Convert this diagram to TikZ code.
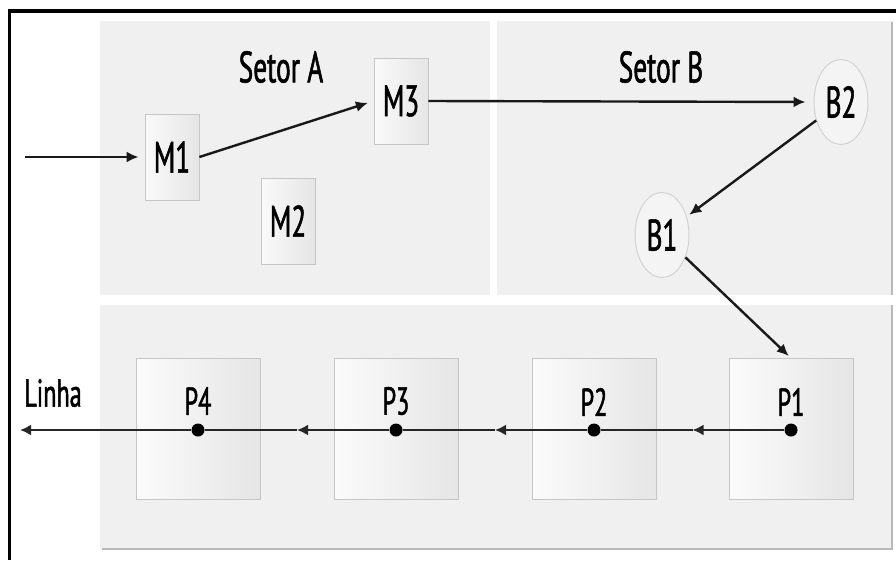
\documentclass[tikz,border=0pt]{standalone}
\usepackage{fontspec}
\setmainfont{PT Sans}[FakeStretch=0.62,FakeBold=1.2]
\usetikzlibrary{shapes.geometric,arrows.meta,calc}
\begin{document}
\begin{tikzpicture}[x=1pt,y=-1pt,
  panel/.style={fill=gray!12,draw=none},
  edge/.style={draw=gray!55,line width=1.2pt},
  mbox/.style={rectangle,draw=gray!45,line width=0.8pt,left color=gray!4,right color=gray!20,
    minimum width=54pt,minimum height=86pt,inner sep=0pt,font=\fontsize{44}{44}\selectfont},
  bnode/.style={ellipse,draw=gray!35,line width=1pt,fill=gray!9,
    minimum width=54pt,minimum height=85pt,inner sep=0pt,font=\fontsize{44}{44}\selectfont},
  pbox/.style={rectangle,draw=gray!45,line width=0.8pt,left color=gray!3,right color=gray!20,
    minimum width=124pt,minimum height=141pt,inner sep=0pt},
  plabel/.style={font=\fontsize{39}{39}\selectfont,inner sep=0pt},
  title/.style={font=\fontsize{44}{44}\selectfont,inner sep=0pt},
  dotc/.style={circle,fill=black,minimum size=13pt,inner sep=0pt},
  arr/.style={-{Latex[length=12pt,width=11pt]},line width=2.4pt,draw=black!90,shorten >=6pt},
  barr/.style={-{Latex[length=11pt,width=11pt]},line width=2.4pt,draw=black!85},
  bline/.style={line width=2.4pt,draw=black!85}]
\useasboundingbox (0,0) rectangle (896,560);
% panels
\fill[panel] (100,21) rectangle (490,295);
\fill[panel] (497,21) rectangle (893,295);
\fill[panel] (100,305) rectangle (893,549);
\draw[edge] (892,22) -- (892,295);
\draw[edge] (892,305) -- (892,549) -- (102,549);
% frame
\draw[line width=3.6pt] (9.5,560) -- (9.5,11) -- (896,11);
% titles
\node[title] (sa) at (281,67) {Setor A};
\node[title] (sb) at (661,67) {Setor B};
% machines
\node[mbox] (m1) at (172,157) {M1};
\node[mbox] (m2) at (288,221) {M2};
\node[mbox] (m3) at (401,101) {M3};
\node[bnode] (b2) at (841,102) {B2};
\node[bnode] (b1) at (662,235) {B1};
% production boxes
\node[pbox] (p4) at (198,429) {};
\node[pbox] (p3) at (396,429) {};
\node[pbox] (p2) at (594,429) {};
\node[pbox] (p1) at (791,429) {};
\node[plabel] (l4) at (198,401) {P4};
\node[plabel] (l3) at (396,401) {P3};
\node[plabel] (l2) at (594,402) {P2};
\node[plabel] (l1) at (791,402) {P1};
\node[plabel] (linha) at (53,393) {Linha};
% connectors top
\coordinate (in) at (25,157);
\draw[arr] (in) -- (m1.west);
\draw[arr] (m1.east) -- (m3.west);
\draw[arr,shorten >=8pt] (m3.east) -- (b2.west);
\draw[arr,shorten >=3pt] (b2) -- (b1);
\draw[arr,shorten >=3pt] (b1) -- (p1.north);
% dots and line
\node[dotc] (d1) at (791,430) {};
\node[dotc] (d2) at (594,430) {};
\node[dotc] (d3) at (396,430) {};
\node[dotc] (d4) at (198,430) {};
\coordinate (h12) at ($(d1)!0.5!(d2)$);
\coordinate (h23) at ($(d2)!0.5!(d3)$);
\coordinate (h34) at ($(d3)!0.5!(d4)$);
\coordinate (out) at (20,430);
\draw[barr] (d1) -- (h12);
\draw[bline] (h12) -- (d2);
\draw[barr] (d2) -- (h23);
\draw[bline] (h23) -- (d3);
\draw[barr] (d3) -- (h34);
\draw[bline] (h34) -- (d4);
\draw[barr] (d4) -- (out);
\end{tikzpicture}
\end{document}
